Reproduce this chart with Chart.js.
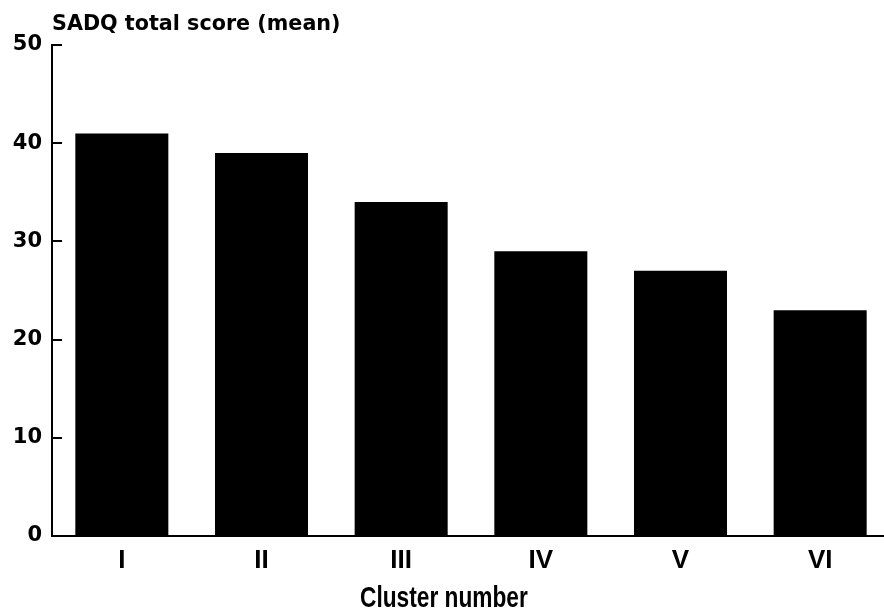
<!DOCTYPE html>
<html>
<head>
<meta charset="utf-8">
<script src="https://cdn.jsdelivr.net/npm/chart.js@4.4.1/dist/chart.umd.min.js"></script>
<style>
  html, body { margin: 0; padding: 0; background: #fff; overflow: hidden; }
  #wrap { width: 900px; height: 612px; }
</style>
</head>
<body>
<div id="wrap"><canvas id="c" width="900" height="612"></canvas></div>
<script>
const categories = ["I", "II", "III", "IV", "V", "VI"];
const meanScores = [41, 39, 34, 29, 27, 23];
const yTicks = [0, 10, 20, 30, 40, 50];
const yTitle = "SADQ total score (mean)";
const xTitle = "Cluster number";

const textPlugin = {
  id: 'textPlugin',
  afterDraw(chart) {
    const ctx = chart.ctx;
    const area = chart.chartArea;
    const y = chart.scales.y;
    ctx.save();
    // inward tick marks on the y axis
    ctx.strokeStyle = '#000';
    ctx.lineWidth = 2;
    yTicks.forEach(v => {
      const py = Math.round(y.getPixelForValue(v));
      ctx.beginPath();
      ctx.moveTo(area.left, py);
      ctx.lineTo(area.left + 10, py);
      ctx.stroke();
    });
    // y title (horizontal, above axis)
    ctx.fillStyle = '#000';
    ctx.font = 'bold 20.7px "DejaVu Sans"';
    ctx.textAlign = 'left';
    ctx.textBaseline = 'alphabetic';
    ctx.fillText(yTitle, area.left, 30);
    // x title (condensed)
    ctx.font = 'bold 30px "Liberation Sans"';
    ctx.translate(360, 607);
    ctx.scale(0.757, 1);
    ctx.fillText(xTitle, 0, 0);
    ctx.restore();
  }
};

new Chart(document.getElementById('c'), {
  type: 'bar',
  data: {
    labels: categories,
    datasets: [{
      data: meanScores,
      backgroundColor: '#000',
      borderWidth: 0,
      barPercentage: 0.666,
      categoryPercentage: 1.0
    }]
  },
  options: {
    responsive: false,
    animation: false,
    layout: { padding: { top: 45, right: 10, left: 0, bottom: 0 } },
    plugins: { legend: { display: false }, tooltip: { enabled: false } },
    scales: {
      x: {
        offset: true,
        grid: { display: false, drawTicks: false },
        border: { display: true, color: '#000', width: 2 },
        ticks: {
          color: '#000',
          padding: 9,
          font: { family: '"Liberation Sans"', weight: 'bold', size: 26 }
        },
        afterFit(scale) { scale.height = 76; }
      },
      y: {
        min: 0,
        max: 50,
        afterBuildTicks(scale) { scale.ticks = yTicks.map(v => ({ value: v })); },
        grid: { display: false, drawTicks: false },
        border: { display: true, color: '#000', width: 2 },
        ticks: {
          color: '#000',
          padding: 10,
          font: { family: '"DejaVu Sans"', weight: 'bold', size: 21 }
        },
        afterFit(scale) { scale.width = 52; }
      }
    }
  },
  plugins: [textPlugin]
});
</script>
</body>
</html>
